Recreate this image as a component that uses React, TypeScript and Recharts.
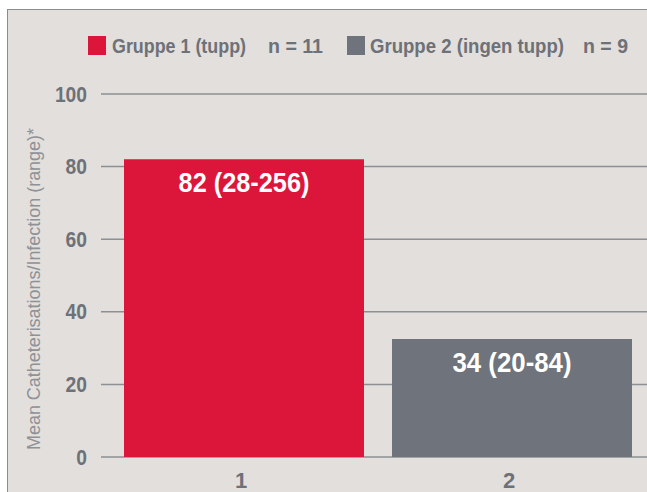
import React from 'react';
import { BarChart, Bar, XAxis, YAxis, CartesianGrid, Cell, LabelList, Legend } from 'recharts';

const categories = ['1', '2'];
const values = [82, 32.5];
const barLabels = ['82 (28-256)', '34 (20-84)'];
const seriesNames = ['Gruppe 1 (tupp)', 'Gruppe 2 (ingen tupp)'];
const seriesCounts = ['n = 11', 'n = 9'];
const barColors = ['#dc163b', '#6f737b'];
const yTicks = [0, 20, 40, 60, 80, 100];
const yLabel = 'Mean Catheterisations/Infection (range)*';

const data = categories.map((c, i) => ({ name: c, value: values[i], label: barLabels[i] }));

// layout / style constants
const FONT = "'Liberation Sans', Arial, sans-serif";
const TEXT_GRAY = '#6d7178';
const legendLayout = [
  { sq: 0, name: 24, nameLen: 134, count: 180, countLen: 55 },
  { sq: 259, name: 282, nameLen: 194, count: 495, countLen: 45 },
];

const LegendContent = () => (
  <svg width={560} height={30} style={{ display: 'block', overflow: 'visible' }}>
    {seriesNames.map((n, i) => {
      const L = legendLayout[i];
      return (
        <g key={n}>
          <rect x={L.sq} y={6} width={18} height={19} fill={barColors[i]} />
          <text x={L.name} y={15.5} dominantBaseline="central" textLength={L.nameLen} lengthAdjust="spacingAndGlyphs"
            fill={TEXT_GRAY} fontFamily={FONT} fontWeight="bold" fontSize={20.5}>{n}</text>
          <text x={L.count} y={15.5} dominantBaseline="central" textLength={L.countLen} lengthAdjust="spacingAndGlyphs"
            fill={TEXT_GRAY} fontFamily={FONT} fontWeight="bold" fontSize={20.5}>{seriesCounts[i]}</text>
        </g>
      );
    })}
  </svg>
);

const BarLabel = (props: any) => {
  const { x, y, width, value } = props;
  const s = String(value);
  return (
    <text x={x + width / 2} y={y + 24} textAnchor="middle" dominantBaseline="central" fill="#ffffff"
      fontFamily={FONT} fontWeight="bold" fontSize={27} textLength={s.length * 11.9} lengthAdjust="spacingAndGlyphs">
      {s}
    </text>
  );
};

const XTick = (props: any) => {
  const { x, y, payload } = props;
  return (
    <text x={x - 3} y={y + 15} textAnchor="middle" dominantBaseline="central" fill={TEXT_GRAY}
      fontFamily={FONT} fontWeight="bold" fontSize={22}>
      {payload.value}
    </text>
  );
};

const YTick = (props: any) => {
  const { x, y, payload } = props;
  const s = String(payload.value);
  return (
    <text x={x} y={y} textAnchor="end" dominantBaseline="central" fill={TEXT_GRAY}
      fontFamily={FONT} fontWeight="bold" fontSize={22} textLength={s.length * 10.7} lengthAdjust="spacingAndGlyphs">
      {s}
    </text>
  );
};

const YLabel = () => {
  const cx = 26;
  const cy = 279;
  return (
    <text x={cx} y={cy} transform={`rotate(-90, ${cx}, ${cy})`} textAnchor="middle" dominantBaseline="central"
      fill="#8e9196" fontFamily={FONT} fontSize={18} textLength={322} lengthAdjust="spacingAndGlyphs">
      {yLabel}
    </text>
  );
};

export default function App() {
  return (
    <div style={{ position: 'absolute', left: 7, top: 9, width: 640, height: 483, background: '#e3dfdc', borderLeft: '1px solid #8a8c90', borderTop: '1px solid #8a8c90', boxSizing: 'border-box' }}>
      <BarChart width={639} height={482} data={data} margin={{ top: 84, right: 0, left: 0, bottom: 0 }} barSize={240}>
        <CartesianGrid vertical={false} stroke="#8c8f93" strokeWidth={1.5} />
        <XAxis dataKey="name" height={35} axisLine={false} tickLine={false} padding={{ left: 9, right: 1 }} tick={<XTick />} interval={0} />
        <YAxis domain={[0, 100]} ticks={yTicks} width={93} axisLine={false} tickLine={false} tickMargin={8}
          tick={<YTick />} label={<YLabel />} />
        <Legend verticalAlign="middle" align="center" layout="horizontal" content={<LegendContent />}
          wrapperStyle={{ top: 20, left: 80, width: 560, height: 30 }} />
        <Bar dataKey="value" isAnimationActive={false}>
          {data.map((d, i) => (
            <Cell key={d.name} fill={barColors[i]} />
          ))}
          <LabelList dataKey="label" content={<BarLabel />} />
        </Bar>
      </BarChart>
    </div>
  );
}
